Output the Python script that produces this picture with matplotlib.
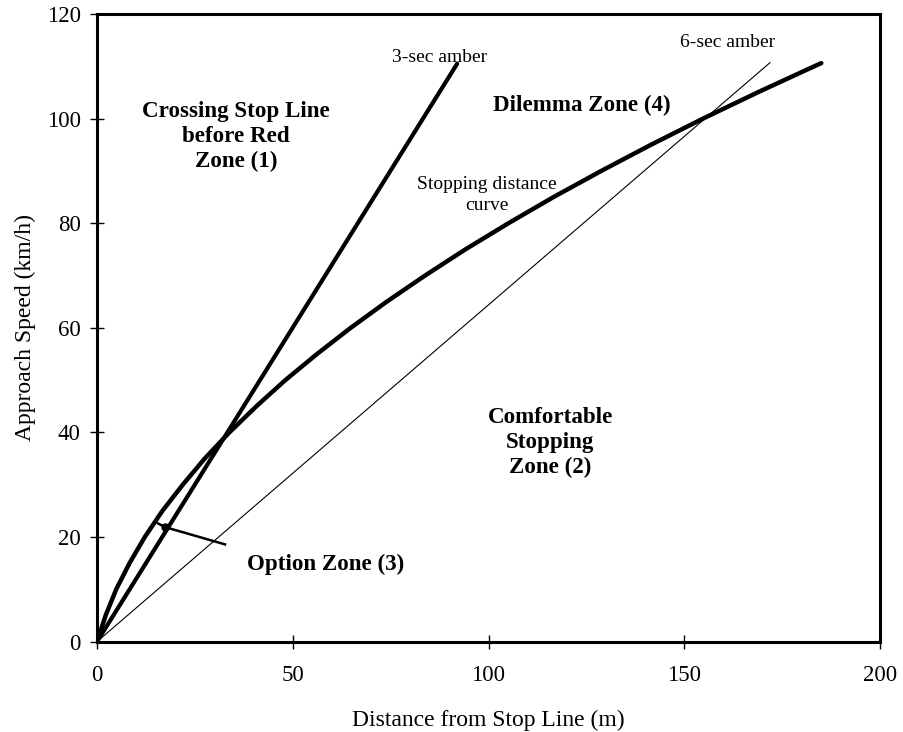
import matplotlib
matplotlib.use("Agg")
import matplotlib.pyplot as plt

plt.rcParams['font.family'] = ['Liberation Serif', 'DejaVu Serif']

# stopping distance curve: approach speed (km/h) vs distance (m)
stop_speed = [0, 5, 10, 15, 20, 25, 30, 35, 40, 45, 50, 55, 60,
              65, 70, 75, 80, 85, 90, 95, 100, 105, 110, 110.6]
stop_dist = [0, 2.2, 4.9, 8.3, 12.2, 16.7, 21.9, 27.5, 33.8, 40.7, 48.1, 56.2, 64.8,
             74.0, 83.8, 94.1, 105.1, 116.6, 128.8, 141.5, 154.8, 168.7, 183.2, 185.0]

# amber-time lines
amber3_dist = [0, 92.0]
amber3_speed = [0, 110.5]
amber6_dist = [0, 171.9]
amber6_speed = [0, 110.7]

# option zone pointer
pointer_dist = [15.6, 17.4, 32.7]
pointer_speed = [22.6, 21.9, 18.6]

fig = plt.figure(figsize=(9.04, 7.32), dpi=100)
ax = fig.add_axes([0.1073, 0.1234, 0.8662, 0.8575])

ax.plot(stop_dist, stop_speed, color='black', lw=3.2, solid_capstyle='round')
ax.plot(amber3_dist, amber3_speed, color='black', lw=3.0, solid_capstyle='round')
ax.plot(amber6_dist, amber6_speed, color='black', lw=0.8)
ax.plot(pointer_dist, pointer_speed, color='black', lw=1.8)
ax.plot(pointer_dist[1], pointer_speed[1], 'o', color='black', ms=5)

ax.set_xlim(0, 200)
ax.set_ylim(0, 120)
ax.set_xticks([0, 50, 100, 150, 200])
ax.set_yticks([0, 20, 40, 60, 80, 100, 120])
ax.tick_params(direction='inout', length=9.5, width=1, labelsize=16.5)
ax.tick_params(axis='x', pad=12)
ax.tick_params(axis='y', pad=7)
for s in ax.spines.values():
    s.set_linewidth(2.2)

ax.set_xlabel('Distance from Stop Line (m)', fontsize=17)
ax.set_ylabel('Approach Speed (km/h)', fontsize=17)
ax.xaxis.set_label_coords(0.5, -0.108)
ax.yaxis.set_label_coords(-0.078, 0.5)

# line labels
ax.text(87.5, 111.6, '3-sec amber', fontsize=14, ha='center', va='center')
ax.text(161, 114.6, '6-sec amber', fontsize=14, ha='center', va='center')
ax.text(99.5, 85.4, 'Stopping distance\ncurve', fontsize=14, ha='center', va='center',
        linespacing=1.25)

# zone labels
bold = dict(fontsize=16.6, fontweight='bold', ha='center', va='center', linespacing=1.25)
ax.text(35.5, 96.5, 'Crossing Stop Line\nbefore Red\nZone (1)', **bold)
ax.text(123.9, 102.6, 'Dilemma Zone (4)', **bold)
ax.text(115.8, 38.0, 'Comfortable\nStopping\nZone (2)', **bold)
ax.text(58.3, 14.7, 'Option Zone (3)', **bold)

fig.savefig('out.png', dpi=100)
